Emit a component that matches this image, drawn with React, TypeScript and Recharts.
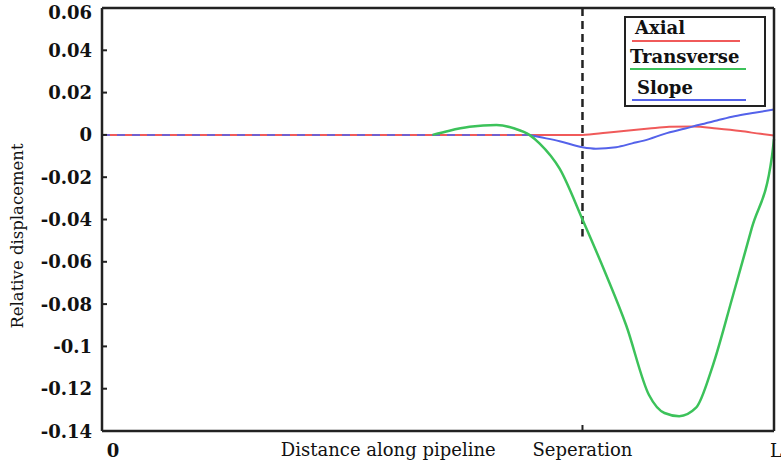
import { LineChart, Line, XAxis, YAxis, ReferenceLine, Legend, Label } from "recharts";

// distance along pipeline, as % of L
const axialX = [0, 71.5, 75, 78, 81.4, 84.4, 88, 91.5, 95, 98, 100];
const axialY = [0, 0, 0.001, 0.002, 0.003, 0.0038, 0.004, 0.003, 0.0018, 0.0005, -0.0003];

const transverseX = [49.2, 51.7, 54.7, 58.7, 61.4, 63.6, 65.1, 68.1, 71.5, 75.0, 78.0, 81.4, 83.7, 85.9, 88.4, 90.8, 93.8, 96.7, 99.7, 100];
const transverseY = [0, 0.002, 0.0038, 0.0047, 0.003, 0, -0.004, -0.016, -0.04, -0.066, -0.09, -0.123, -0.1315, -0.133, -0.129, -0.11, -0.077, -0.044, -0.01, -0.002];

const slopeX = [0, 63.6, 65.1, 68.1, 71.5, 73.5, 76.5, 78.9, 81.4, 83.7, 86.8, 88.9, 91.5, 94.1, 97.1, 100];
const slopeY = [0, 0, -0.001, -0.003, -0.0058, -0.0065, -0.0058, -0.004, -0.002, 0.0005, 0.003, 0.0048, 0.0068, 0.0088, 0.0105, 0.012];

const seriesNames = ["Axial", "Transverse", "Slope"];
const yTicks = [0.06, 0.04, 0.02, 0, -0.02, -0.04, -0.06, -0.08, -0.1, -0.12, -0.14];
const xTicks = [0, 42.6, 71.5, 100];
const xTickLabels = ["0", "Distance along pipeline", "Seperation", "L"];
const separationX = 71.5;
const separationEnd = -0.048;

const SERIF = "'DejaVu Serif', serif";
const RED = "#f05a5a";
const GREEN = "#3cc25a";
const BLUE = "#5462ea";

const zip = (xs: number[], ys: number[]) => xs.map((x, i) => ({ x, y: ys[i] }));

const axial = zip(axialX, axialY);
const transverse = zip(transverseX, transverseY);
const slope = zip(slopeX, slopeY);
const slopeFlat = slope.filter((p) => p.x <= 63.6);
const slopeCurve = slope.filter((p) => p.x >= 63.6);

const fmt = (v: number) => String(Number(v.toFixed(2)));

// eslint-disable-next-line @typescript-eslint/no-explicit-any
function LeftTick({ x, y, payload }: any) {
  const v = payload.value as number;
  return (
    <g>
      <line x1={x} x2={x + 5} y1={y} y2={y} stroke="#222" strokeWidth={2} />
      <text
        x={x - 10}
        y={v === 0.06 ? y + 4 : y}
        textAnchor="end"
        dominantBaseline="central"
        fontFamily={SERIF}
        fontWeight="bold"
        fontSize={18}
        fill="#111"
      >
        {fmt(v)}
      </text>
    </g>
  );
}

// eslint-disable-next-line @typescript-eslint/no-explicit-any
function RightTick({ x, y }: any) {
  return <line x1={x - 5} x2={x} y1={y} y2={y} stroke="#222" strokeWidth={2} />;
}

// eslint-disable-next-line @typescript-eslint/no-explicit-any
function BottomTick({ x, y, payload }: any) {
  const i = xTicks.indexOf(payload.value);
  const label = xTickLabels[i];
  if (i === 0) {
    return (
      <text x={x + 11} y={y + 26} textAnchor="middle" fontFamily={SERIF} fontWeight="bold" fontSize={18} fill="#111">
        {label}
      </text>
    );
  }
  if (i === 3) {
    return (
      <text x={x - 4} y={y + 26} textAnchor="start" fontFamily={SERIF} fontSize={18} fill="#111">
        {label}
      </text>
    );
  }
  return (
    <g>
      {i === 2 && <line x1={x} x2={x} y1={y} y2={y - 6} stroke="#222" strokeWidth={2} />}
      <text x={x} y={y + 25} textAnchor="middle" fontFamily={SERIF} fontSize={18} fill="#111">
        {label}
      </text>
    </g>
  );
}

// positions inside the legend box (relative to its padding box)
const legendText = [
  { left: 9, center: 10 },
  { left: 4, center: 39 },
  { left: 11, center: 70 },
];
const legendLine = [
  { left: 6, right: 114, top: 23 },
  { left: 4, right: 120, top: 51 },
  { left: 6, right: 120, top: 82 },
];

// eslint-disable-next-line @typescript-eslint/no-explicit-any
function LegendBox({ payload }: any) {
  const items = seriesNames
    .map((n) => (payload ?? []).find((p: any) => p.value === n))
    .filter(Boolean);
  return (
    <div
      style={{
        position: "relative",
        width: 142,
        height: 91,
        boxSizing: "border-box",
        border: "2px solid #222",
        background: "#fff",
        fontFamily: SERIF,
        fontWeight: "bold",
        fontSize: 18,
        color: "#111",
      }}
    >
      {items.map((it: any, i: number) => (
        <div key={it.value}>
          <div style={{ position: "absolute", left: legendText[i].left, top: legendText[i].center - 10, lineHeight: "20px" }}>
            {it.value}
          </div>
          <div
            style={{
              position: "absolute",
              left: legendLine[i].left,
              width: legendLine[i].right - legendLine[i].left,
              top: legendLine[i].top - 1,
              height: 2,
              background: it.color,
            }}
          />
        </div>
      ))}
    </div>
  );
}

export default function App() {
  return (
    <div style={{ position: "absolute", left: 0, top: 0, background: "#fff" }}>
      <LineChart width={781} height={464} margin={{ top: 8, right: 6, bottom: 0, left: 0 }}>
        <XAxis
          dataKey="x"
          type="number"
          domain={[0, 100]}
          ticks={xTicks}
          tick={<BottomTick />}
          tickLine={false}
          tickSize={0}
          tickMargin={0}
          height={33}
          axisLine={{ stroke: "#222", strokeWidth: 2.5 }}
          interval={0}
        />
        <YAxis
          yAxisId="left"
          type="number"
          domain={[-0.14, 0.06]}
          ticks={yTicks}
          tick={<LeftTick />}
          tickLine={false}
          tickSize={0}
          tickMargin={0}
          width={102}
          axisLine={{ stroke: "#222", strokeWidth: 2.5 }}
          interval={0}
        >
          <Label
            content={() => (
              <text
                transform="translate(23,236) rotate(-90)"
                textAnchor="middle"
                fontFamily={SERIF}
                fontSize={16.5}
                fill="#111"
              >
                Relative displacement
              </text>
            )}
          />
        </YAxis>
        <YAxis
          yAxisId="right"
          orientation="right"
          type="number"
          domain={[-0.14, 0.06]}
          ticks={yTicks}
          tick={<RightTick />}
          tickLine={false}
          tickSize={0}
          tickMargin={0}
          width={1}
          axisLine={{ stroke: "#222", strokeWidth: 2.5 }}
          interval={0}
        />
        <ReferenceLine yAxisId="left" y={0.06} stroke="#222" strokeWidth={2.5} />
        <ReferenceLine
          yAxisId="left"
          segment={[
            { x: separationX, y: 0.06 },
            { x: separationX, y: separationEnd },
          ]}
          stroke="#222"
          strokeWidth={2.5}
          strokeDasharray="8 5"
        />
        <Legend
          layout="vertical"
          align="center"
          verticalAlign="middle"
          content={<LegendBox />}
          wrapperStyle={{ position: "absolute", left: 624, top: 16, width: 142, height: 91 }}
        />
        <Line
          yAxisId="left"
          data={axial}
          dataKey="y"
          name="Axial"
          type="monotone"
          stroke={RED}
          strokeWidth={2}
          dot={false}
          isAnimationActive={false}
        />
        <Line
          yAxisId="left"
          data={slopeCurve}
          dataKey="y"
          name="Slope"
          type="monotone"
          stroke={BLUE}
          strokeWidth={2}
          dot={false}
          isAnimationActive={false}
        />
        <Line
          yAxisId="left"
          data={slopeFlat}
          dataKey="y"
          name="Slope (flat)"
          legendType="none"
          type="linear"
          stroke={BLUE}
          strokeOpacity={0.8}
          strokeWidth={2}
          strokeDasharray="8 7"
          dot={false}
          isAnimationActive={false}
        />
        <Line
          yAxisId="left"
          data={transverse}
          dataKey="y"
          name="Transverse"
          type="monotone"
          stroke={GREEN}
          strokeWidth={2.5}
          dot={false}
          isAnimationActive={false}
        />
      </LineChart>
    </div>
  );
}
